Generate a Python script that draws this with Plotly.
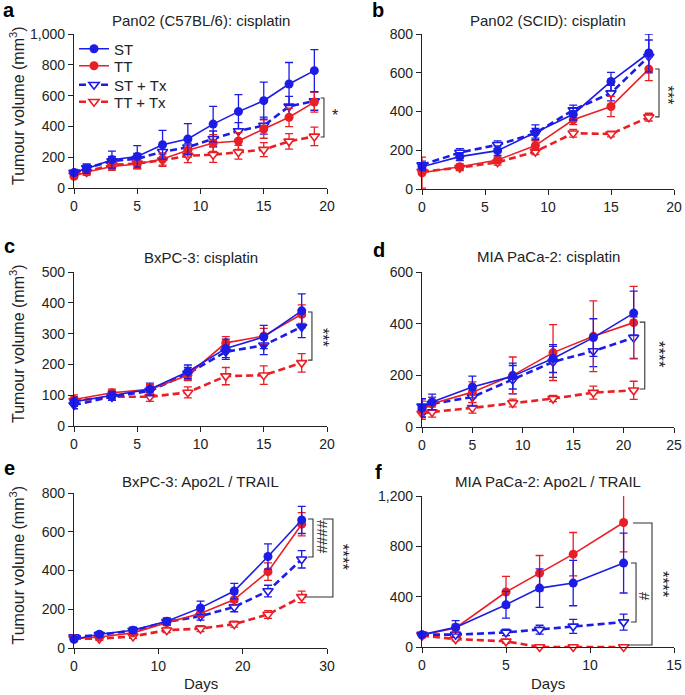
import plotly.graph_objects as go

W, H = 685, 695
FONT = "Liberation Sans, Arial, Helvetica, sans-serif"
BLUE = "#1c1ce6"
RED = "#ea1f26"
INK = "#222222"

# ---------------- data ----------------
# a: Pan02 (C57BL/6): cisplatin
A_DAYS = [0, 1, 3, 5, 7, 9, 11, 13, 15, 17, 19]
A_ST = [100, 125, 184, 205, 281, 318, 415, 496, 567, 675, 762]
A_ST_ERR = [20, 30, 55, 70, 93, 100, 115, 110, 120, 140, 136]
A_TT = [76, 104, 140, 156, 188, 245, 292, 305, 383, 459, 558]
A_TT_ERR = [15, 20, 25, 30, 40, 45, 55, 55, 60, 60, 65]
A_STTX = [100, 130, 175, 190, 235, 265, 320, 370, 405, 530, 565]
A_STTX_ERR = [15, 25, 30, 35, 45, 50, 50, 55, 55, 65, 60]
A_TTTX = [85, 105, 150, 160, 180, 210, 216, 232, 249, 303, 335]
A_TTTX_ERR = [15, 20, 25, 35, 40, 45, 50, 45, 45, 50, 60]

# b: Pan02 (SCID): cisplatin
B_DAYS = [0, 3, 6, 9, 12, 15, 18]
B_ST = [115, 167, 198, 293, 386, 555, 702]
B_ST_ERR = [20, 20, 25, 38, 30, 47, 98]
B_TT = [84, 115, 150, 224, 357, 426, 619]
B_TT_ERR = [80, 15, 15, 25, 25, 52, 60]
B_STTX = [124, 188, 228, 288, 408, 495, 684]
B_STTX_ERR = [20, 20, 20, 25, 25, 40, 85]
B_TTTX = [90, 110, 138, 193, 288, 284, 371]
B_TTTX_ERR = [15, 15, 15, 15, 20, 15, 20]

# c: BxPC-3: cisplatin
C_DAYS = [0, 3, 6, 9, 12, 15, 18]
C_ST = [79, 100, 119, 176, 252, 289, 374]
C_ST_ERR = [15, 12, 20, 22, 30, 38, 55]
C_TT = [86, 108, 119, 165, 270, 292, 363]
C_TT_ERR = [15, 12, 15, 18, 20, 25, 30]
C_STTX = [68, 95, 114, 170, 241, 262, 322]
C_STTX_ERR = [12, 12, 15, 20, 25, 30, 35]
C_TTTX = [82, 95, 95, 109, 162, 165, 205]
C_TTTX_ERR = [12, 10, 15, 18, 28, 30, 30]

# d: MIA PaCa-2: cisplatin
D_DAYS = [0, 1, 5, 9, 13, 17, 21]
D_ST = [74, 97, 155, 197, 265, 346, 441]
D_ST_ERR = [35, 30, 42, 50, 54, 73, 85]
D_TT = [65, 90, 135, 200, 288, 351, 404]
D_TT_ERR = [35, 25, 40, 71, 108, 137, 140]
D_STTX = [80, 90, 116, 183, 252, 294, 346]
D_STTX_ERR = [30, 25, 35, 55, 60, 60, 80]
D_TTTX = [52, 58, 74, 93, 110, 133, 142]
D_TTTX_ERR = [15, 20, 20, 15, 12, 25, 35]

# e: BxPC-3: Apo2L/TRAIL
E_DAYS = [0, 3, 7, 11, 15, 19, 23, 27]
E_ST = [45, 71, 92, 138, 207, 294, 472, 661]
E_ST_ERR = [12, 12, 15, 18, 35, 40, 65, 70]
E_TT = [48, 57, 78, 131, 178, 250, 394, 639]
E_TT_ERR = [10, 10, 12, 15, 20, 30, 45, 60]
E_STTX = [57, 68, 90, 135, 164, 212, 294, 458]
E_STTX_ERR = [10, 10, 12, 15, 20, 25, 30, 45]
E_TTTX = [48, 48, 60, 92, 100, 123, 173, 264]
E_TTTX_ERR = [8, 8, 10, 12, 15, 15, 20, 30]

# f: MIA PaCa-2: Apo2L/TRAIL
F_DAYS = [0, 2, 5, 7, 9, 12]
F_ST = [98, 156, 336, 468, 508, 667]
F_ST_ERR = [20, 53, 106, 153, 180, 238]
F_TT = [95, 151, 437, 587, 738, 989]
F_TT_ERR = [20, 30, 124, 140, 172, 233]
F_STTX = [98, 98, 116, 138, 164, 198]
F_STTX_ERR = [15, 20, 25, 35, 55, 64]
F_TTTX = [90, 63, 45, 0, 0, 0]
F_TTTX_ERR = [10, 15, 15, 0, 0, 0]

SERIES_NAMES = ["ST", "TT", "ST + Tx", "TT + Tx"]
PANEL_TITLES = ["Pan02 (C57BL/6): cisplatin", "Pan02 (SCID): cisplatin",
                "BxPC-3: cisplatin", "MIA PaCa-2: cisplatin",
                "BxPC-3: Apo2L / TRAIL", "MIA PaCa-2: Apo2L / TRAIL"]
PANEL_LETTERS = ["a", "b", "c", "d", "e", "f"]

DATA = [
    (A_DAYS, [(A_ST, A_ST_ERR), (A_TT, A_TT_ERR), (A_STTX, A_STTX_ERR), (A_TTTX, A_TTTX_ERR)]),
    (B_DAYS, [(B_ST, B_ST_ERR), (B_TT, B_TT_ERR), (B_STTX, B_STTX_ERR), (B_TTTX, B_TTTX_ERR)]),
    (C_DAYS, [(C_ST, C_ST_ERR), (C_TT, C_TT_ERR), (C_STTX, C_STTX_ERR), (C_TTTX, C_TTTX_ERR)]),
    (D_DAYS, [(D_ST, D_ST_ERR), (D_TT, D_TT_ERR), (D_STTX, D_STTX_ERR), (D_TTTX, D_TTTX_ERR)]),
    (E_DAYS, [(E_ST, E_ST_ERR), (E_TT, E_TT_ERR), (E_STTX, E_STTX_ERR), (E_TTTX, E_TTTX_ERR)]),
    (F_DAYS, [(F_ST, F_ST_ERR), (F_TT, F_TT_ERR), (F_STTX, F_STTX_ERR), (F_TTTX, F_TTTX_ERR)]),
]

# ---------------- layout geometry (page pixels) ----------------
PANELS = [
    dict(px=(74, 327), py=(34, 188), xmax=20, xd=5, ymax=1000, yd=200, ty=21, lt=(9, 10.5)),
    dict(px=(422, 674), py=(34, 189), xmax=20, xd=5, ymax=800, yd=200, ty=21, lt=(378, 10.5)),
    dict(px=(74, 327), py=(272, 426), xmax=20, xd=5, ymax=500, yd=100, ty=257, lt=(9, 246)),
    dict(px=(422, 674), py=(272, 427), xmax=25, xd=5, ymax=600, yd=200, ty=256, lt=(379, 250)),
    dict(px=(74, 327), py=(493, 648), xmax=30, xd=10, ymax=800, yd=200, ty=481, lt=(9, 468)),
    dict(px=(422, 674), py=(496, 647), xmax=15, xd=5, ymax=1200, yd=400, ty=481, lt=(379, 472)),
]
LEGEND_ROWS_Y = [49, 66, 85, 102]
LEGEND_X = 74

# significance brackets in data units: (panel, x_vertical, y_top, y_bottom, x_top_tick, x_bottom_tick)
BRACKETS = [
    (0, 19.76, 584, 331, 19.5, 19.5),
    (1, 18.81, 619, 372, 18.5, 18.5),
    (2, 18.81, 370, 214, 18.5, 18.5),
    (3, 22.1, 406, 147, 21.6, 21.6),
    (4, 28.34, 666, 470, 27.75, 27.75),
    (4, 30.7, 666, 263, 29.5, 27.4),
    (5, 12.74, 668, 199, 12.44, 12.44),
    (5, 13.69, 985, 16, 12.56, 12.26),
]
# significance labels: (panel, x, y, text, angle, size)
SIG_LABELS = [
    (0, 20.6, 474, "*", 0, 16),
    (1, 19.55, 485, "***", 90, 16),
    (2, 19.6, 286, "***", 90, 16),
    (3, 23.4, 279, "****", 90, 17),
    (4, 29.4, 573, "####", 90, 15),
    (4, 31.8, 470, "****", 90, 17),
    (5, 13.27, 397, "#", 90, 15),
    (5, 14.29, 501, "****", 90, 17),
]


def pxx(px):
    return px / W


def pxy(py):
    return 1 - py / H


def to_paper(p, x, y):
    P = PANELS[p]
    x0, x1 = P["px"]
    yt, yb = P["py"]
    px = x0 + x / P["xmax"] * (x1 - x0)
    py = yb - y / P["ymax"] * (yb - yt)
    return pxx(px), pxy(py)


fig = go.Figure()

COLORS = [BLUE, RED, BLUE, RED]
DASHED = [False, False, True, True]
DRAW_ORDER = [3, 2, 1, 0]
LEGEND_IDS = ["legend", "legend2", "legend3", "legend4"]

for i, (days, series) in enumerate(DATA):
    xa = "x" if i == 0 else f"x{i+1}"
    ya = "y" if i == 0 else f"y{i+1}"
    for s in DRAW_ORDER:
        vals, errs = series[s]
        col = COLORS[s]
        if DASHED[s]:
            filled = (i == 2 and s == 2)
            marker = dict(symbol="triangle-down", size=9,
                          color=col if filled else "white",
                          line=dict(color=col, width=1.6))
            line = dict(color=col, width=2.6, dash="7px,4px")
        else:
            marker = dict(symbol="circle", size=9, color=col, line=dict(width=0))
            line = dict(color=col, width=1.6)
        fig.add_trace(go.Scatter(
            x=days, y=vals, xaxis=xa, yaxis=ya, mode="lines+markers",
            name=SERIES_NAMES[s], showlegend=(i == 0), legend=LEGEND_IDS[s],
            line=line, marker=marker, cliponaxis=False,
            error_y=dict(type="data", array=errs, visible=True, color=col,
                         thickness=1.3, width=4),
        ))

layout = dict(
    width=W, height=H, margin=dict(l=0, r=0, t=0, b=0, autoexpand=False),
    paper_bgcolor="white", plot_bgcolor="white",
    font=dict(family=FONT, size=14, color=INK),
    showlegend=True,
)
for k, lid in enumerate(LEGEND_IDS):
    layout[lid] = dict(x=pxx(LEGEND_X), y=pxy(LEGEND_ROWS_Y[k]), xanchor="left",
                       yanchor="middle", font=dict(size=15, color=INK),
                       bgcolor="rgba(0,0,0,0)", borderwidth=0, itemclick=False,
                       itemdoubleclick=False)

annotations = []
shapes = []
for i, P in enumerate(PANELS):
    xk = "xaxis" if i == 0 else f"xaxis{i+1}"
    yk = "yaxis" if i == 0 else f"yaxis{i+1}"
    xa = "x" if i == 0 else f"x{i+1}"
    ya = "y" if i == 0 else f"y{i+1}"
    x0, x1 = P["px"]
    yt, yb = P["py"]
    common = dict(showline=True, linecolor=INK, linewidth=1.2, ticks="outside",
                  ticklen=5, tickwidth=1.2, tickcolor=INK, showgrid=False,
                  zeroline=False, tickfont=dict(size=14, color=INK, family=FONT),
                  fixedrange=True, automargin=False)
    layout[xk] = dict(domain=[pxx(x0), pxx(x1)], range=[0, P["xmax"]], anchor=ya,
                      tick0=0, dtick=P["xd"], **common)
    layout[yk] = dict(domain=[pxy(yb), pxy(yt)], range=[0, P["ymax"]], anchor=xa,
                      tick0=0, dtick=P["yd"], tickformat=",d", **common)
    annotations.append(dict(x=pxx((x0 + x1) / 2), y=pxy(P["ty"]), xref="paper", yref="paper",
                            text=PANEL_TITLES[i], showarrow=False, xanchor="center",
                            yanchor="middle", font=dict(size=15, color=INK)))
    lx, ly = P["lt"]
    annotations.append(dict(x=pxx(lx), y=pxy(ly), xref="paper", yref="paper",
                            text="<b>%s</b>" % PANEL_LETTERS[i], showarrow=False,
                            xanchor="center", yanchor="middle",
                            font=dict(size=20, color="black")))
    if i % 2 == 0:
        annotations.append(dict(x=pxx(17), y=pxy((yt + yb) / 2 - 5), xref="paper",
                                yref="paper", text="Tumour volume (mm<sup>3</sup>)",
                                showarrow=False, textangle=-90, xanchor="center",
                                yanchor="middle", font=dict(size=16, color=INK)))
    if i >= 4:
        annotations.append(dict(x=pxx((x0 + x1) / 2), y=pxy(683), xref="paper",
                                yref="paper", text="Days", showarrow=False,
                                xanchor="center", yanchor="middle",
                                font=dict(size=15, color=INK)))

for (p, xv, ytop, ybot, xtt, xtb) in BRACKETS:
    a1 = to_paper(p, xtt, ytop)
    a2 = to_paper(p, xv, ytop)
    a3 = to_paper(p, xv, ybot)
    a4 = to_paper(p, xtb, ybot)
    path = "M %f,%f L %f,%f L %f,%f L %f,%f" % (a1[0], a1[1], a2[0], a2[1],
                                                 a3[0], a3[1], a4[0], a4[1])
    shapes.append(dict(type="path", path=path, xref="paper", yref="paper",
                       line=dict(color="#333333", width=1.1)))

for (p, x, y, txt, ang, sz) in SIG_LABELS:
    xp, yp = to_paper(p, x, y)
    annotations.append(dict(x=xp, y=yp, xref="paper", yref="paper", text=txt,
                            showarrow=False, textangle=ang, xanchor="center",
                            yanchor="middle", font=dict(size=sz, color=INK)))

layout["annotations"] = annotations
layout["shapes"] = shapes
fig.update_layout(**layout)
# remove the browser's default 8px page margin so the figure fills the window
fig.write_html("out.html", config={"displayModeBar": False},
               post_script="document.body.style.margin='0';")
